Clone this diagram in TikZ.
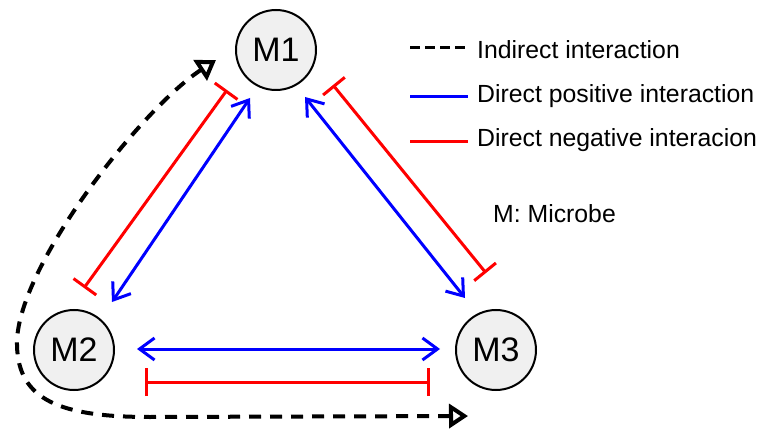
\documentclass[tikz,border=0pt]{standalone}
\usepackage{fontspec}
\setmainfont{Liberation Sans}
\usetikzlibrary{arrows.meta}
\definecolor{nodefill}{HTML}{F0F0F0}
\definecolor{posblue}{RGB}{0,0,255}
\definecolor{negred}{RGB}{255,0,0}
\tikzset{
  microbe/.style={circle, draw=black, line width=2pt, fill=nodefill, minimum size=80pt, inner sep=0pt, font=\fontsize{34}{40}\selectfont},
  posline/.style={draw=posblue, line width=3pt, {Straight Barb[length=15pt,width=22pt]}-{Straight Barb[length=15pt,width=22pt]}},
  negline/.style={draw=negred, line width=3pt, {Bar[width=28pt]}-{Bar[width=28pt]}},
  indline/.style={draw=black, line width=4pt, dash pattern=on 12pt off 9pt, {Triangle[open,length=19pt,width=24pt]}-{Triangle[open,length=19pt,width=24pt]}},
  legtext/.style={anchor=base west, inner sep=0pt, font=\fontsize{24.8}{28}\selectfont}
}
\begin{document}
\begin{tikzpicture}[x=1pt,y=-1pt]
\useasboundingbox (0,0) rectangle (760,430);
\node[microbe] (m1) at (276,50) {M1};
\node[microbe] (m2) at (74,350) {M2};
\node[microbe] (m3) at (496,350) {M3};
% endpoints
\coordinate (b12a) at (250,98);  \coordinate (b12b) at (112,302);
\coordinate (r12a) at (227,90);  \coordinate (r12b) at (84,288);
\coordinate (b13a) at (305,97);  \coordinate (b13b) at (465,298);
\coordinate (r13a) at (333,85);  \coordinate (r13b) at (486,273);
\coordinate (b23a) at (137,349); \coordinate (b23b) at (440,349);
\coordinate (r23a) at (145,382); \coordinate (r23b) at (430,382);
\coordinate (ia) at (468,416); \coordinate (ib) at (216,60);
\draw[posline] (b12a) -- (b12b);
\draw[negline] (r12a) -- (r12b);
\draw[posline] (b13a) -- (b13b);
\draw[negline] (r13a) -- (r13b);
\draw[posline] (b23a) -- (b23b);
\draw[negline] (r23a) -- (r23b);
\draw[indline] (ia) -- (150,417) .. controls (60,417) and (18,400) .. (17,345) .. controls (15,270) and (140,110) .. (ib);
% legend
\coordinate (l1a) at (410,48); \coordinate (l1b) at (468,48);
\coordinate (l2a) at (410,97); \coordinate (l2b) at (468,97);
\coordinate (l3a) at (410,142); \coordinate (l3b) at (468,142);
\draw[black, line width=3pt, dash pattern=on 10pt off 5pt] (l1a) -- (l1b);
\draw[posblue, line width=3pt] (l2a) -- (l2b);
\draw[negred, line width=3pt] (l3a) -- (l3b);
\node[legtext] (t1) at (477,59) {Indirect interaction};
\node[legtext] (t2) at (477,103) {Direct positive interaction};
\node[legtext] (t3) at (477,147) {Direct negative interacion};
\node[legtext] (t4) at (493,223) {M: Microbe};
\end{tikzpicture}
\end{document}
